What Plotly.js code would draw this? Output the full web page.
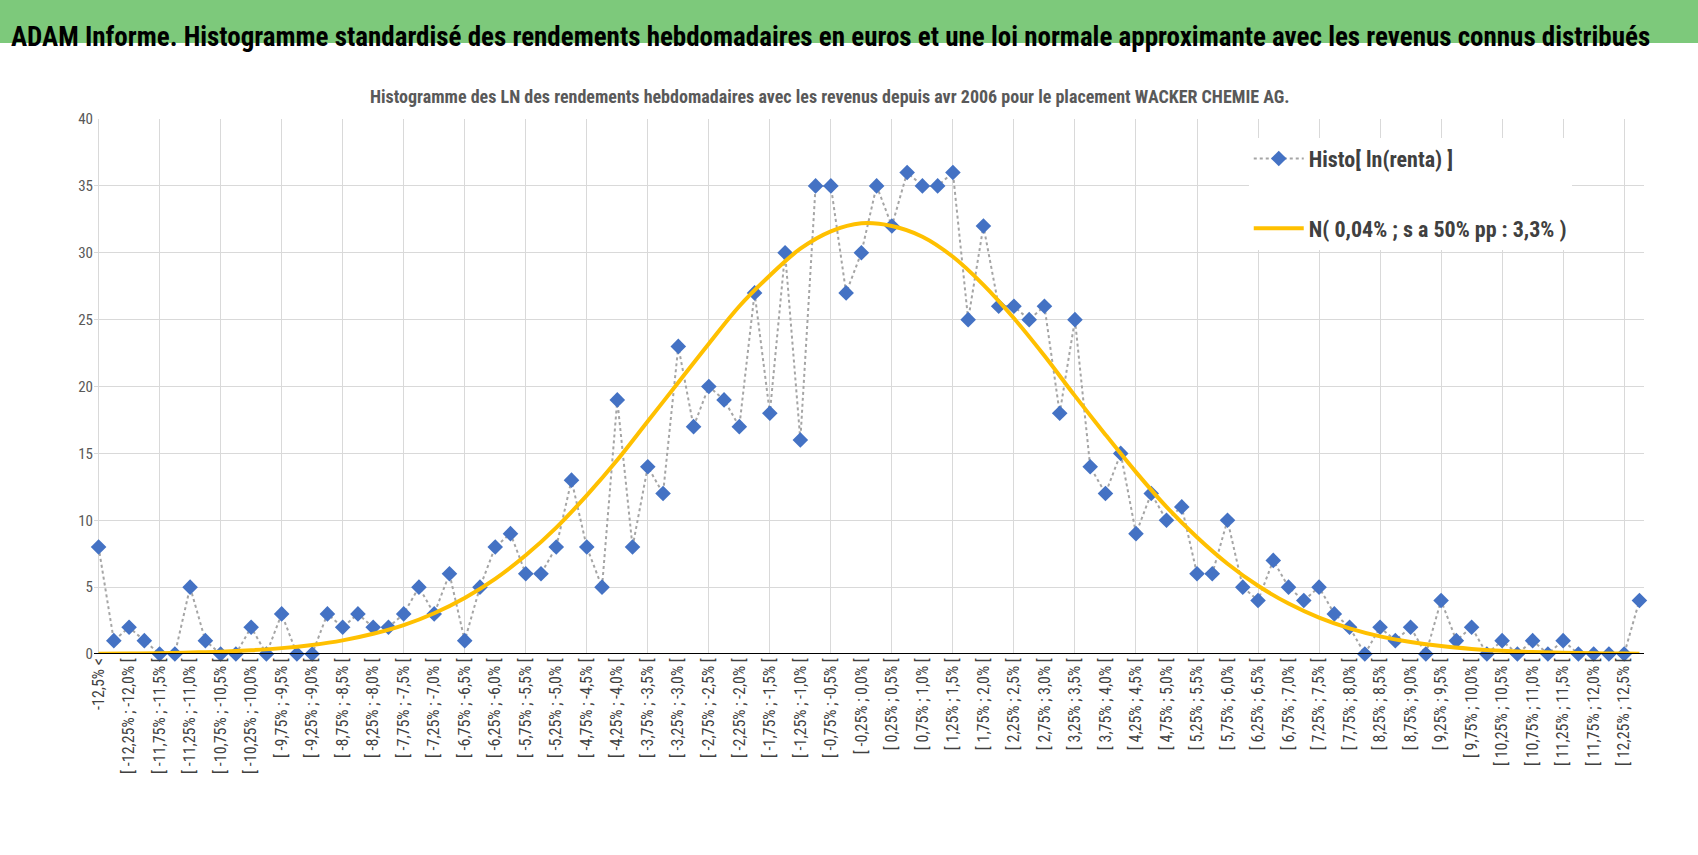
<!DOCTYPE html>
<html>
<head>
<meta charset="utf-8">
<script src="https://cdn.plot.ly/plotly-3.0.1.min.js"></script>
<style>body{margin:0;background:#fff;} #chart{width:1698px;height:855px;}</style>
</head>
<body>
<div id="chart"></div>
<script>
// classes des rendements hebdomadaires
var categories = ["-12,5% <",
 "[ -12,5% ; -12,25% [","[ -12,25% ; -12,0% [","[ -12,0% ; -11,75% [","[ -11,75% ; -11,5% [","[ -11,5% ; -11,25% [","[ -11,25% ; -11,0% [",
 "[ -11,0% ; -10,75% [","[ -10,75% ; -10,5% [","[ -10,5% ; -10,25% [","[ -10,25% ; -10,0% [","[ -10,0% ; -9,75% [","[ -9,75% ; -9,5% [",
 "[ -9,5% ; -9,25% [","[ -9,25% ; -9,0% [","[ -9,0% ; -8,75% [","[ -8,75% ; -8,5% [","[ -8,5% ; -8,25% [","[ -8,25% ; -8,0% [",
 "[ -8,0% ; -7,75% [","[ -7,75% ; -7,5% [","[ -7,5% ; -7,25% [","[ -7,25% ; -7,0% [","[ -7,0% ; -6,75% [","[ -6,75% ; -6,5% [",
 "[ -6,5% ; -6,25% [","[ -6,25% ; -6,0% [","[ -6,0% ; -5,75% [","[ -5,75% ; -5,5% [","[ -5,5% ; -5,25% [","[ -5,25% ; -5,0% [",
 "[ -5,0% ; -4,75% [","[ -4,75% ; -4,5% [","[ -4,5% ; -4,25% [","[ -4,25% ; -4,0% [","[ -4,0% ; -3,75% [","[ -3,75% ; -3,5% [",
 "[ -3,5% ; -3,25% [","[ -3,25% ; -3,0% [","[ -3,0% ; -2,75% [","[ -2,75% ; -2,5% [","[ -2,5% ; -2,25% [","[ -2,25% ; -2,0% [",
 "[ -2,0% ; -1,75% [","[ -1,75% ; -1,5% [","[ -1,5% ; -1,25% [","[ -1,25% ; -1,0% [","[ -1,0% ; -0,75% [","[ -0,75% ; -0,5% [",
 "[ -0,5% ; -0,25% [","[ -0,25% ; 0,0% [","[ 0,0% ; 0,25% [","[ 0,25% ; 0,5% [","[ 0,5% ; 0,75% [","[ 0,75% ; 1,0% [",
 "[ 1,0% ; 1,25% [","[ 1,25% ; 1,5% [","[ 1,5% ; 1,75% [","[ 1,75% ; 2,0% [","[ 2,0% ; 2,25% [","[ 2,25% ; 2,5% [",
 "[ 2,5% ; 2,75% [","[ 2,75% ; 3,0% [","[ 3,0% ; 3,25% [","[ 3,25% ; 3,5% [","[ 3,5% ; 3,75% [","[ 3,75% ; 4,0% [",
 "[ 4,0% ; 4,25% [","[ 4,25% ; 4,5% [","[ 4,5% ; 4,75% [","[ 4,75% ; 5,0% [","[ 5,0% ; 5,25% [","[ 5,25% ; 5,5% [",
 "[ 5,5% ; 5,75% [","[ 5,75% ; 6,0% [","[ 6,0% ; 6,25% [","[ 6,25% ; 6,5% [","[ 6,5% ; 6,75% [","[ 6,75% ; 7,0% [",
 "[ 7,0% ; 7,25% [","[ 7,25% ; 7,5% [","[ 7,5% ; 7,75% [","[ 7,75% ; 8,0% [","[ 8,0% ; 8,25% [","[ 8,25% ; 8,5% [",
 "[ 8,5% ; 8,75% [","[ 8,75% ; 9,0% [","[ 9,0% ; 9,25% [","[ 9,25% ; 9,5% [","[ 9,5% ; 9,75% [","[ 9,75% ; 10,0% [",
 "[ 10,0% ; 10,25% [","[ 10,25% ; 10,5% [","[ 10,5% ; 10,75% [","[ 10,75% ; 11,0% [","[ 11,0% ; 11,25% [","[ 11,25% ; 11,5% [",
 "[ 11,5% ; 11,75% [","[ 11,75% ; 12,0% [","[ 12,0% ; 12,25% [","[ 12,25% ; 12,5% [","12,5% <<"];

var histo = [8,1,2,1,0,0,5,1,0,0,2,0,3,0,0,3,2,3,2,2,3,5,3,6,1,5,8,9,6,6,8,13,8,5,19,8,14,12,23,17,
 20,19,17,27,18,30,16,35,35,27,30,35,32,36,35,35,36,25,32,26,26,25,26,18,25,14,12,15,9,12,
 10,11,6,6,10,5,4,7,5,4,5,3,2,0,2,1,2,0,4,1,2,0,1,0,1,0,1,0,0,0,0,4];

// courbe normale, une classe sur deux
var normIdx = [0,2,4,6,8,10,12,14,16,18,20,22,24,26,28,30,32,34,36,38,40,42,44,46,48,50,
 52,54,56,58,60,62,64,66,68,70,72,74,76,78,80,82,84,86,88,90,92,94,96,98,100,101];
var normVals = [0.02,0.04,0.06,0.11,0.17,0.28,0.44,0.68,1.02,1.51,2.16,3.05,4.19,5.62,7.38,9.45,11.86,14.5,17.4,20.3,
 23.2,26.0,28.3,30.3,31.6,32.2,32.0,31.2,29.7,27.6,25.1,22.3,19.3,16.4,13.6,11.0,8.73,6.75,5.1,3.77,
 2.72,1.92,1.32,0.9,0.59,0.38,0.24,0.15,0.09,0.05,0.03,0.02];

var tickIdx = [], tickTxt = [], gridIdx = [];
for (var i = 0; i <= 100; i += 2) { tickIdx.push(categories[i]); tickTxt.push(i == 0 ? "-12,5% <" : categories[i]); }
for (var j = 0; j <= 101; j += 4) { gridIdx.push(categories[j]); }

var fnt = "'Liberation Sans Narrow', 'Arial Narrow', 'Roboto Condensed', sans-serif";

var trace0 = {
    x: categories,
    y: histo,
    name: "<b>Histo[ ln(renta) ]</b>",
    legendgroup: 'a',
    mode: 'lines+markers',
    type: 'scatter',
    line: { color: '#a5a5a5', width: 2, dash: 'dot' },
    marker: { symbol: 'diamond', size: 12, color: '#4472c4' },
    cliponaxis: false
};
var trace1 = {
    x: normIdx.map(function (k) { return categories[k]; }),
    y: normVals,
    name: "<b>N( 0,04% ; s a 50% pp : 3,3% )</b>",
    legendgroup: 'b',
    mode: 'lines',
    type: 'scatter',
    line: { color: '#ffc000', width: 4, shape: 'spline' }
};

var layout = {
    width: 1698,
    height: 855,
    margin: { l: 94, r: 54, t: 119, b: 201 },
    paper_bgcolor: '#fff',
    plot_bgcolor: '#fff',
    font: { family: fnt, color: '#595959', size: 14 },
    xaxis: {
        type: 'category',
        categoryarray: categories,
        range: [-0.3, 101.3],
        tickmode: 'array',
        tickvals: tickIdx,
        ticktext: tickTxt,
        tickangle: -90,
        showgrid: false,
        zeroline: false,
        ticks: '',
        tickfont: { size: 16, color: '#404040' }
    },
    xaxis2: {
        type: 'category',
        categoryarray: categories,
        overlaying: 'x',
        range: [-0.3, 101.3],
        tickmode: 'array',
        tickvals: gridIdx,
        showticklabels: false,
        showgrid: true,
        gridcolor: '#d9d9d9',
        zeroline: false
    },
    yaxis: {
        range: [0, 40],
        dtick: 5,
        showgrid: true,
        gridcolor: '#d9d9d9',
        zeroline: false,
        showline: false,
        tickfont: { size: 15, color: '#595959' }
    },
    showlegend: true,
    legend: {
        x: 0.745, y: 0.965, xanchor: 'left', yanchor: 'top',
        bgcolor: '#fff',
        traceorder: 'grouped',
        font: { size: 22, color: '#404040', family: fnt },
        tracegroupgap: 38,
        itemwidth: 50
    },
    shapes: [
        { type: 'rect', xref: 'paper', yref: 'paper', x0: -0.07, x1: 1.04, y0: 1.142, y1: 1.23, fillcolor: '#7dc97b', line: { width: 0 }, layer: 'below' },
        { type: 'line', xref: 'paper', yref: 'y', x0: 0, x1: 1, y0: 0, y1: 0, line: { color: '#000', width: 2 } }
    ],
    annotations: [
        { text: '<b>ADAM Informe. Histogramme standardisé des rendements hebdomadaires en euros et une loi normale approximante avec les revenus connus distribués</b>',
          xref: 'paper', yref: 'paper', x: 0.475, y: 1.187, showarrow: false, font: { size: 27, color: '#000', family: fnt } },
        { text: '<b>Histogramme des LN des rendements hebdomadaires avec les revenus depuis avr 2006 pour le placement WACKER CHEMIE AG.</b>',
          xref: 'paper', yref: 'paper', x: 0.475, y: 1.065, showarrow: false, font: { size: 18, color: '#595959', family: fnt } }
    ]
};

var dummy = { x: gridIdx, y: gridIdx.map(function () { return null; }), xaxis: 'x2', type: 'scatter', showlegend: false, hoverinfo: 'skip' };

Plotly.newPlot('chart', [dummy, trace0, trace1], layout, { staticPlot: true });
</script>
</body>
</html>
